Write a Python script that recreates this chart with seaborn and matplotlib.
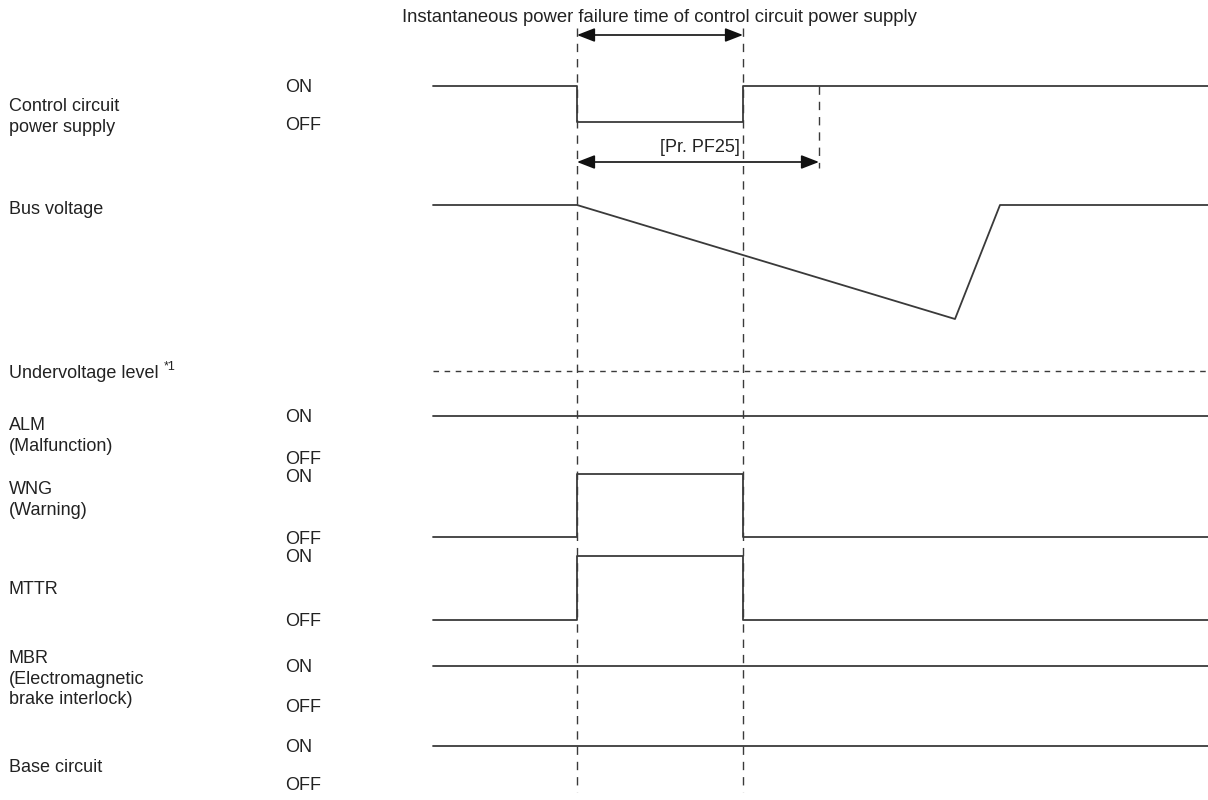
import matplotlib
matplotlib.use("Agg")
import matplotlib.pyplot as plt
import seaborn as sns
import pandas as pd

sns.set_theme(style="white")
plt.rcParams['font.family'] = ['Liberation Sans', 'DejaVu Sans']

# ---- data (time axis in diagram units) ----
t_start, t_fail, t_recover, t_pf25, t_bus_min, t_bus_up, t_end = 433, 577, 743, 819, 955, 1000, 1208

signal_names = ["Control circuit\npower supply", "ALM\n(Malfunction)", "WNG\n(Warning)", "MTTR",
                "MBR\n(Electromagnetic\nbrake interlock)", "Base circuit"]
# step signals: (times, levels 1=ON 0=OFF)
ctrl_t = [t_start, t_fail, t_fail, t_recover, t_recover, t_end]
ctrl_v = [1, 1, 0, 0, 1, 1]
alm_t = [t_start, t_end]
alm_v = [1, 1]
wng_t = [t_start, t_fail, t_fail, t_recover, t_recover, t_end]
wng_v = [0, 0, 1, 1, 0, 0]
mttr_t = [t_start, t_fail, t_fail, t_recover, t_recover, t_end]
mttr_v = [0, 0, 1, 1, 0, 0]
mbr_t = [t_start, t_end]
mbr_v = [1, 1]
base_t = [t_start, t_end]
base_v = [1, 1]

bus_t = [t_start, t_fail, t_bus_min, t_bus_up, t_end]
bus_v = [1.0, 1.0, 0.0, 1.0, 1.0]   # normalised bus voltage (1 = nominal, 0 = dip minimum)

# row layout (pixel rows of ON / OFF level)
on_y = [86, 416, 474, 556, 666, 746]
off_y = [122, 460, 537, 620, 706, 785]
label_y = [117, 436, 500, 589, 679, 768]
on_lab_y = [87, 417, 478, 558, 667, 747]
off_lab_y = [125, 460, 540, 621, 707, 786]

fig = plt.figure(figsize=(12.08, 8.0), dpi=100)
ax = fig.add_axes([0, 0, 1, 1])

line_col = "#3a3a3a"
txt_col = "#222222"
fs = 13

rows = []
for i, (tt, vv) in enumerate([(ctrl_t, ctrl_v), (alm_t, alm_v), (wng_t, wng_v), (mttr_t, mttr_v),
                              (mbr_t, mbr_v), (base_t, base_v)]):
    for k, (t, v) in enumerate(zip(tt, vv)):
        rows.append({"sig": i, "order": k, "t": t, "y": off_y[i] + (on_y[i] - off_y[i]) * v})
bus_hi, bus_lo = 205, 319
for k, (t, v) in enumerate(zip(bus_t, bus_v)):
    rows.append({"sig": 99, "order": k, "t": t, "y": bus_lo + (bus_hi - bus_lo) * v})
df = pd.DataFrame(rows)

for s, g in df.groupby("sig"):
    sns.lineplot(data=g, x="t", y="y", sort=False, estimator=None, ax=ax,
                 color=line_col, linewidth=1.3, legend=False)

ax.set_xlim(0, 1208)
ax.set_ylim(800, 0)
ax.axis("off")

# undervoltage level
undervolt_y = 371
ax.plot([t_start, t_end], [undervolt_y, undervolt_y], color=line_col, lw=1.0, ls=(0, (4, 4)))

# vertical dashed markers
for x in (t_fail, t_recover):
    ax.plot([x, x], [28, 792], color=line_col, lw=1.0, ls=(0, (6, 5)))
ax.plot([t_pf25, t_pf25], [86, 168], color=line_col, lw=1.0, ls=(0, (6, 5)))

# arrows
arrow_kw = dict(arrowstyle="<|-|>,head_length=0.9,head_width=0.35", color="#111111", lw=1.2,
                shrinkA=0, shrinkB=0)
ax.annotate("", xy=(t_recover, 35), xytext=(t_fail, 35), arrowprops=arrow_kw)
ax.annotate("", xy=(t_pf25, 162), xytext=(t_fail, 162), arrowprops=arrow_kw)

ax.text(659, 17, "Instantaneous power failure time of control circuit power supply",
        ha="center", va="center", fontsize=13.3, color=txt_col)
ax.text(t_recover - 3, 147, "[Pr. PF25]", ha="right", va="center", fontsize=fs, color=txt_col)

# labels
for i, name in enumerate(signal_names):
    ax.text(9, label_y[i], name, ha="left", va="center", fontsize=fs, color=txt_col, linespacing=1.28)
    ax.text(285, on_lab_y[i], "ON", ha="left", va="center", fontsize=fs, color=txt_col)
    ax.text(285, off_lab_y[i], "OFF", ha="left", va="center", fontsize=fs, color=txt_col)

ax.text(9, 209, "Bus voltage", ha="left", va="center", fontsize=fs, color=txt_col)
ax.text(9, 373, "Undervoltage level", ha="left", va="center", fontsize=fs, color=txt_col)
ax.text(164, 367, "*1", ha="left", va="center", fontsize=9, color=txt_col)

fig.savefig("out.png", dpi=100)
